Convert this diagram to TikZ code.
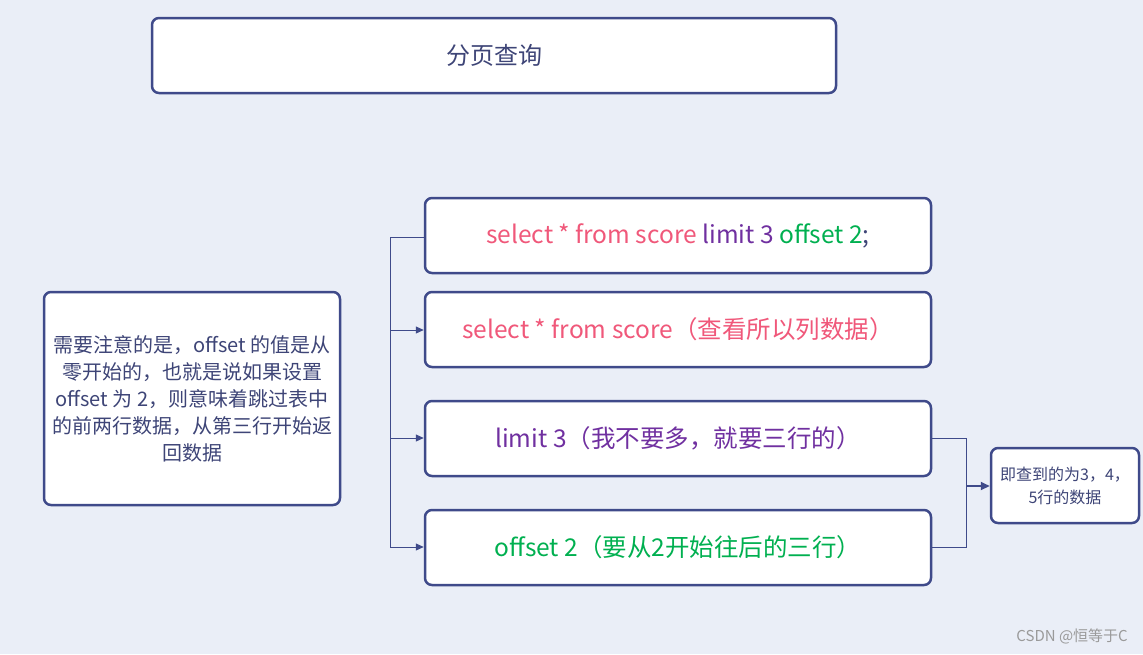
\documentclass[tikz,border=0pt]{standalone}
\usepackage{fontspec}
\setmainfont{Noto Sans CJK SC}
\usetikzlibrary{arrows.meta}
\definecolor{bg}{HTML}{EAEEF7}
\definecolor{bd}{HTML}{3F4A8A}
\definecolor{tx}{HTML}{3E4577}
\definecolor{pk}{HTML}{F0587A}
\definecolor{pu}{HTML}{7030A0}
\definecolor{gn}{HTML}{00B050}
\definecolor{wm}{HTML}{9A9A9A}
\tikzset{
  box/.style={draw=bd, line width=2.5pt, fill=white, rounded corners=7pt, inner sep=0pt, align=center},
  conn/.style={draw=bd, line width=1pt},
  arr/.style={conn, -{Triangle[length=8pt,width=7pt]}},
  big/.style={font=\fontsize{24.5}{28}\selectfont},
}
\begin{document}
\begin{tikzpicture}[x=1pt,y=-1pt]
\fill[bg] (0,0) rectangle (1143,654);
\useasboundingbox (0,0) rectangle (1143,654);

\node[box, minimum width=684pt, minimum height=75pt, font=\fontsize{24}{28}\selectfont, text=tx] (title) at (494,55.5) {\raisebox{-1.5pt}{分页查询}};

\node[box, minimum width=506pt, minimum height=75pt, big] (b1) at (678,235.5)
  {\textcolor{pk}{select * from score} \textcolor{pu}{limit 3} \textcolor{gn}{offset 2}\textcolor{tx}{;}};
\node[box, minimum width=506pt, minimum height=75pt, big, text=pk] (b2) at (678,329.5)
  {select * from score（查看所以列数据）};
\node[box, minimum width=506pt, minimum height=75pt, big, text=pu] (b3) at (678,438.5)
  {limit 3（我不要多，就要三行的）};
\node[box, minimum width=506pt, minimum height=75pt, big, text=gn] (b4) at (678,547.5)
  {offset 2（要从2开始往后的三行）};

\node[box, minimum width=296pt, minimum height=213pt, text=tx, font=\fontsize{20}{27}\selectfont] (left) at (192,398.5)
  {需要注意的是，offset 的值是从\\零开始的，也就是说如果设置\\offset 为 2，则意味着跳过表中\\的前两行数据，从第三行开始返\\回数据};

\node[box, minimum width=148pt, minimum height=75pt, text=tx, font=\fontsize{16}{23}\selectfont] (res) at (1065,485.5)
  {即查到的为3，4，\\5行的数据};

\coordinate (j1) at (390,237);
\coordinate (j4) at (390,547);
\draw[conn] (b1.west |- j1) -- (j1) -- (j4);
\draw[arr] (390,330) -- (b2.west |- 0,330);
\draw[arr] (390,438) -- (b3.west |- 0,438);
\draw[arr] (j4) -- (b4.west |- j4);

\coordinate (k3) at (966,438);
\coordinate (k4) at (966,547);
\coordinate (km) at (966,486);
\draw[conn] (b3.east |- k3) -- (k3) -- (k4) -- (b4.east |- k4);
\draw[conn, line width=2pt, -{Triangle[length=9pt,width=8pt]}] (km) -- (res.west |- km);

\node[text=wm, font=\fontsize{15}{17}\selectfont, anchor=east, inner sep=0pt] (wmk) at (1128,636) {CSDN @恒等于C};
\end{tikzpicture}
\end{document}
